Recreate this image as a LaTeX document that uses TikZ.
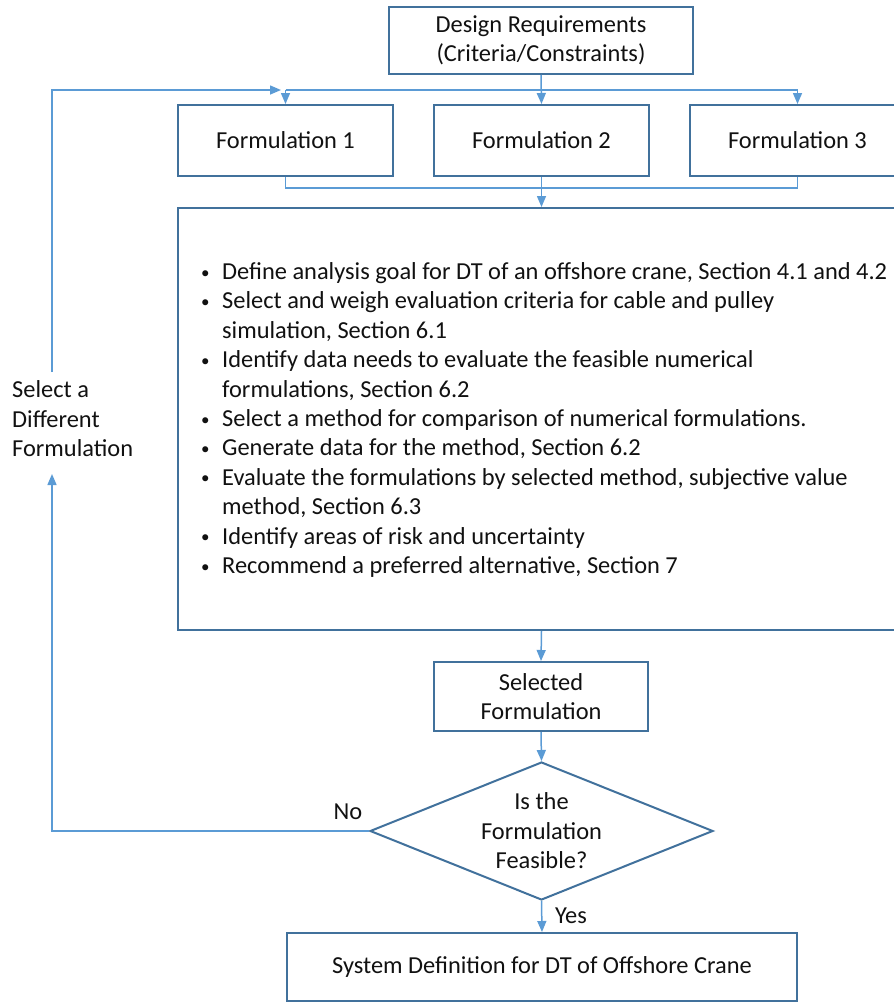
\documentclass[tikz,border=0pt]{standalone}
\usepackage{fontspec}
\setmainfont{Carlito}
\usetikzlibrary{shapes.geometric,arrows.meta}
\definecolor{boxc}{HTML}{41719C}
\definecolor{linec}{HTML}{5B9BD5}
\definecolor{txt}{HTML}{111111}
\newcommand{\fs}{\fontsize{24.4}{29.4}\selectfont}
\newcommand{\bul}{\makebox[22pt][l]{\hspace*{1pt}\raisebox{1.5pt}{\fontsize{17}{17}\selectfont\textbullet}}}
\newcommand{\ind}{\hspace*{22pt}}
\tikzset{
  box/.style={draw=boxc, line width=2pt, fill=white, align=center, font=\fs, text=txt, inner sep=0pt},
  conn/.style={draw=linec, line width=1.5pt},
  arr/.style={conn, -{Triangle[width=9pt,length=11pt]}},
  lbl/.style={font=\fs, text=txt, inner sep=0pt},
}
\begin{document}
\begin{tikzpicture}[x=1pt,y=-1pt]
\useasboundingbox (0,0) rectangle (894,1002);
\clip (0,0) rectangle (894,1002);
% nodes
\node[box, minimum width=304, minimum height=67] (req) at (541,40.5) {Design Requirements\\(Criteria/Constraints)};
\node[box, minimum width=215, minimum height=71] (f1) at (285.5,140.5) {Formulation 1};
\node[box, minimum width=215, minimum height=71] (f2) at (541.5,140.5) {Formulation 2};
\node[box, minimum width=215, minimum height=71] (f3) at (797.5,140.5) {Formulation 3};
\node[box, minimum width=727, minimum height=422] (big) at (541.5,419) {};
\node[lbl, anchor=west, align=left] (list) at (200,420) {%
\bul Define analysis goal for DT of an offshore crane, Section 4.1 and 4.2\\
\bul Select and weigh evaluation criteria for cable and pulley\\
\ind simulation, Section 6.1\\
\bul Identify data needs to evaluate the feasible numerical\\
\ind formulations, Section 6.2\\
\bul Select a method for comparison of numerical formulations.\\
\bul Generate data for the method, Section 6.2\\
\bul Evaluate the formulations by selected method, subjective value\\
\ind method, Section 6.3\\
\bul Identify areas of risk and uncertainty\\
\bul Recommend a preferred alternative, Section 7};
\node[box, minimum width=214, minimum height=69] (sel) at (541,696.5) {Selected\\Formulation};
\node[box, shape=diamond, aspect=2.5, minimum width=343, minimum height=138] (dia) at (541.5,831) {Is the\\Formulation\\Feasible?};
\node[box, minimum width=510, minimum height=68] (sys) at (542,967) {System Definition for DT of Offshore Crane};
\node[lbl, anchor=west, align=left] (alt) at (12,419) {Select a\\Different\\Formulation};
\node[lbl] (no) at (348,812) {No};
\node[lbl] (yes) at (571,916) {Yes};
% coordinates
\coordinate (busL) at (285.5,90);
\coordinate (busR) at (797.5,90);
\coordinate (lblT) at (52,372);
\coordinate (lblB) at (52,474);
\coordinate (fbEnd) at (281,90);
% connectors
\draw[conn] (busL) -- (busR);
\draw[arr] (req.south) -- (f2.north);
\draw[arr] (busL) -- (f1.north);
\draw[arr] (busR) -- (f3.north);
\draw[conn] (f1.south) -- ++(0,11) -| (f3.south);
\draw[arr] (f2.south) -- (big.north);
\draw[arr] (big.south) -- (sel.north);
\draw[arr] (sel.south) -- (dia.north);
\draw[arr] (dia.south) -- (sys.north);
\draw[arr] (dia.west) -| (lblB);
\draw[arr] (lblT) |- (fbEnd);
\end{tikzpicture}
\end{document}
